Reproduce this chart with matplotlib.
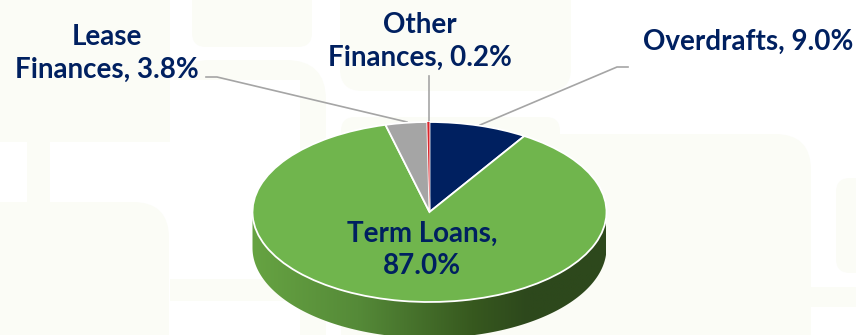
import numpy as np
import matplotlib
matplotlib.use("Agg")
import matplotlib.pyplot as plt
from matplotlib.colors import LinearSegmentedColormap
from matplotlib.patches import FancyBboxPatch, PathPatch, Rectangle
from matplotlib.path import Path

categories = ["Overdrafts", "Term Loans", "Lease\nFinances", "Other\nFinances"]
values = [9.0, 87.0, 3.8, 0.2]
colors = ["#002060", "#70B54D", "#A5A5A5", "#D9262C"]

W, H = 856, 335
NAVY = "#002060"
PALE = "#FBFCF6"
GREY = "#A5A5A5"
CX, CY, RX, RY, DEPTH = 429.5, 212, 177, 90, 36
plt.rcParams["font.family"] = ["Lato", "DejaVu Sans"]

fig = plt.figure(figsize=(W / 100, H / 100), dpi=100, facecolor="white")
bg = fig.add_axes([0, 0, 1, 1])
bg.set_axis_off()

def pale_box(x0, y0, x1, y1, r=0):
    if r:
        bg.add_patch(FancyBboxPatch((x0 + r, y0 + r), x1 - x0 - 2 * r, y1 - y0 - 2 * r,
                                    boxstyle=f"round,pad={r},rounding_size={r}",
                                    fc=PALE, ec="none", zorder=1))
    else:
        bg.add_patch(Rectangle((x0, y0), x1 - x0, y1 - y0, fc=PALE, ec="none", zorder=1))

# faint background panels
pale_box(0, 0, 170, 142)
pale_box(192, -30, 312, 47, 14)
pale_box(340, -40, 571, 91, 22)
pale_box(170, 60, 326, 400, 40)
bg.add_patch(Rectangle((170, 80), 130, 330, fc="white", ec="none", zorder=1.1))
bg.add_patch(Rectangle((170, 279), 130, 22, fc=PALE, ec="none", zorder=1.2))
pale_box(341, 117, 560, 400, 14)
pale_box(27, 142, 50, 202)
pale_box(-40, 202, 169, 400, 36)
pale_box(520, 134, 811, 400, 36)
pale_box(811, 287, 860, 307)
pale_box(836, 178, 900, 273, 14)

# gradient side of the cylinder
t = np.linspace(np.pi, 0, 181)
ex, ey = CX + RX * np.cos(t), CY + RY * np.sin(t)
side = np.column_stack([np.r_[ex, ex[::-1]], np.r_[ey + DEPTH, ey[::-1]]])
side_path = Path(np.vstack([side, side[0]]), closed=True)
cmap = LinearSegmentedColormap.from_list(
    "side", [(0, "#66A342"), (0.3, "#558A38"), (0.62, "#37591F"), (0.78, "#2D481C"), (1, "#2D481C")])
im = bg.imshow(np.linspace(0, 1, 256)[None, :], cmap=cmap, aspect="auto", zorder=2,
               extent=(CX - RX, CX + RX, CY + RY + DEPTH, CY))
clip = PathPatch(side_path, fc="none", ec="none", transform=bg.transData)
bg.add_patch(clip)
im.set_clip_path(clip)
bg.set_xlim(0, W)
bg.set_ylim(H, 0)

# leader lines
leaders = [([206, 217, 407], [77, 77, 122]),
           ([429, 429], [76, 122]),
           ([628, 617, 480], [67, 67, 125])]
for xs, ys in leaders:
    bg.plot(xs, ys, color=GREY, lw=1.2, zorder=3, solid_joinstyle="miter")

# pie top, squashed by a non-equal axes
ax = fig.add_axes([(CX - RX) / W, (H - CY - RY) / H, 2 * RX / W, 2 * RY / H])
wedges, _ = ax.pie(values, colors=colors, startangle=90, counterclock=False, radius=1,
                   wedgeprops=dict(edgecolor="white", linewidth=1.3), normalize=True)
wedges[3].set_linewidth(0)
ax.set_aspect("auto")
ax.set_xlim(-1, 1)
ax.set_ylim(-1, 1)
ax.patch.set_alpha(0)
for p in ax.patches:
    p.set_clip_on(False)

# labels above the pie
top = fig.add_axes([0, 0, 1, 1])
top.set_axis_off()
top.set_xlim(0, W)
top.set_ylim(H, 0)
positions = [(748, 42), (422, 250), (107, 53), (420, 41.5)]
for cat, val, (x, y) in zip(categories, values, positions):
    label = f"{cat},\n{val:.1f}%" if cat == "Term Loans" else f"{cat}, {val:.1f}%"
    top.text(x, y, label, ha="center", va="center", color=NAVY, fontsize=20,
             fontweight="bold", linespacing=1.32)

fig.savefig("out.png", dpi=100, facecolor="white")
